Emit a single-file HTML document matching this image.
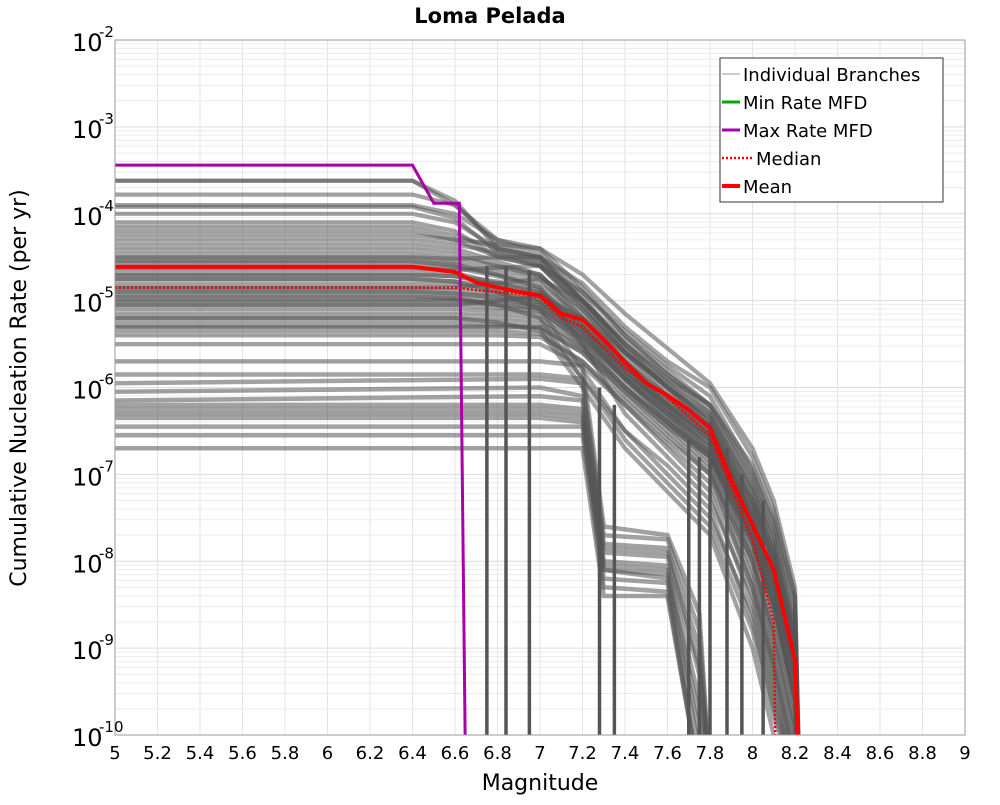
<!DOCTYPE html>
<html><head><meta charset="utf-8"><style>
body{margin:0;background:#fff;font-family:"Liberation Sans","DejaVu Sans",sans-serif}
svg text{font-family:"DejaVu Sans","Liberation Sans",sans-serif}
</style></head><body>
<svg id="chart" width="1000" height="800" xmlns="http://www.w3.org/2000/svg">
<rect width="1000" height="800" fill="#fff"/>
<g id="grid"></g>
<g id="branches"></g>
<g id="series"></g>
<rect x="115" y="40" width="850" height="695" fill="none" stroke="#999" stroke-width="1"/>
<g id="axes"></g>
<text x="490" y="23" text-anchor="middle" font-size="21" font-weight="bold">Loma Pelada</text>
<text x="540" y="790" text-anchor="middle" font-size="22">Magnitude</text>
<text transform="translate(26,388) rotate(-90)" text-anchor="middle" font-size="22">Cumulative Nucleation Rate (per yr)</text>
<g>
<rect x="720" y="58" width="223" height="144" fill="#fff" stroke="#333" stroke-width="1"/>
<line x1="722" y1="74" x2="740" y2="74" stroke="#bbb" stroke-width="1.5"/>
<text x="743" y="81" font-size="18">Individual Branches</text>
<line x1="722" y1="102" x2="740" y2="102" stroke="#00aa00" stroke-width="3"/>
<text x="743" y="109" font-size="18">Min Rate MFD</text>
<line x1="722" y1="130" x2="740" y2="130" stroke="#aa00aa" stroke-width="3"/>
<text x="743" y="137" font-size="18">Max Rate MFD</text>
<line x1="722" y1="158" x2="752" y2="158" stroke="#f00" stroke-width="2.5" stroke-dasharray="2,2"/>
<text x="756" y="165" font-size="18">Median</text>
<line x1="722" y1="186" x2="740" y2="186" stroke="#f00" stroke-width="4"/>
<text x="743" y="193" font-size="18">Mean</text>
</g>
</svg>
<script>
const xTicks=[5,5.2,5.4,5.6,5.8,6,6.2,6.4,6.6,6.8,7,7.2,7.4,7.6,7.8,8,8.2,8.4,8.6,8.8,9];
const xTickLabels=["5","5.2","5.4","5.6","5.8","6","6.2","6.4","6.6","6.8","7","7.2","7.4","7.6","7.8","8","8.2","8.4","8.6","8.8","9"];
const yDecades=[-2,-3,-4,-5,-6,-7,-8,-9,-10];
const meanMags=[5,6.4,6.6,6.7,6.8,6.9,7.0,7.1,7.2,7.3,7.4,7.5,7.6,7.7,7.8,7.9,8.0,8.1,8.2,8.22];
const meanLog=[-4.61,-4.61,-4.67,-4.79,-4.85,-4.9,-4.94,-5.15,-5.22,-5.45,-5.71,-5.95,-6.09,-6.26,-6.47,-7.06,-7.58,-8.1,-9.14,-10.5];
const medianMags=[5,6.6,6.7,6.9,7.0,7.1,7.2,7.4,7.6,7.8,7.9,8.0,8.1,8.11];
const medianLog=[-4.85,-4.85,-4.88,-4.92,-4.96,-5.2,-5.3,-5.78,-6.12,-6.55,-7.15,-7.75,-8.7,-10.5];
const maxMags=[5,6.4,6.5,6.62,6.65];
const maxLog=[-3.44,-3.44,-3.88,-3.88,-10.5];
const upperMags=[5,6.4,6.6,6.8,7.0,7.2,7.4,7.6,7.8,8.0,8.1,8.2,8.22];
const upperBranches=[
[-3.62,-3.62,-3.9,-4.3,-4.45,-4.9,-5.4,-5.8,-6.2,-7.0,-7.6,-8.5,-10.5],
[-3.62,-3.62,-3.85,-4.4,-4.55,-5.0,-5.5,-5.9,-6.3,-7.2,-7.9,-9.0,-10.5],
[-3.78,-3.78,-3.9,-4.35,-4.5,-4.95,-5.55,-6.0,-6.35,-7.3,-8.0,-9.2,-10.5],
[-3.9,-3.9,-4.0,-4.3,-4.4,-4.85,-5.4,-5.85,-6.25,-7.1,-7.7,-8.7,-10.5],
[-3.92,-3.92,-4.05,-4.45,-4.6,-5.05,-5.6,-6.05,-6.45,-7.5,-8.2,-9.3,-10.5],
[-4.0,-4.0,-4.1,-4.4,-4.5,-5.0,-5.5,-5.95,-6.4,-7.3,-7.9,-8.9,-10.5],
[-4.1,-4.1,-4.2,-4.5,-4.6,-5.1,-5.65,-6.1,-6.55,-7.6,-8.4,-9.5,-10.5],
[-4.15,-4.15,-4.25,-4.4,-4.5,-5.0,-5.5,-5.9,-6.2,-6.9,-7.5,-8.4,-10.5],
[-4.25,-4.25,-4.3,-4.5,-4.6,-5.05,-5.6,-6.0,-6.4,-7.4,-8.0,-9.0,-10.5],
[-4.3,-4.3,-4.35,-4.45,-4.55,-5.0,-5.55,-6.0,-6.45,-7.5,-8.2,-9.3,-10.5],
[-4.35,-4.35,-4.4,-4.55,-4.7,-5.2,-5.75,-6.2,-6.6,-7.7,-8.5,-9.6,-10.5],
[-4.45,-4.45,-4.5,-4.6,-4.7,-5.15,-5.7,-6.15,-6.5,-7.45,-8.1,-9.1,-10.5],
[-4.5,-4.5,-4.55,-4.65,-4.75,-5.25,-5.8,-6.25,-6.7,-7.8,-8.6,-9.7,-10.5],
[-4.55,-4.55,-4.6,-4.7,-4.8,-5.2,-5.7,-6.1,-6.45,-7.3,-7.9,-8.9,-10.5],
[-4.6,-4.6,-4.62,-4.72,-4.85,-5.3,-5.85,-6.3,-6.75,-7.9,-8.8,-9.9,-10.5],
[-4.65,-4.65,-4.68,-4.8,-4.9,-5.3,-5.8,-6.2,-6.55,-7.5,-8.2,-9.2,-10.5],
[-4.7,-4.7,-4.72,-4.82,-4.92,-5.35,-5.9,-6.35,-6.8,-7.95,-8.9,-10.0,-10.5],
[-4.75,-4.75,-4.78,-4.85,-4.95,-5.3,-5.75,-6.15,-6.5,-7.35,-8.0,-9.0,-10.5],
[-4.8,-4.8,-4.82,-4.9,-5.0,-5.4,-5.9,-6.3,-6.7,-7.7,-8.5,-9.6,-10.5],
[-4.85,-4.85,-4.88,-4.92,-5.0,-5.35,-5.85,-6.25,-6.6,-7.6,-8.3,-9.4,-10.5],
[-4.9,-4.9,-4.92,-4.97,-5.05,-5.45,-5.95,-6.4,-6.85,-8.0,-9.0,-10.1,-10.5],
[-4.95,-4.95,-4.97,-5.0,-5.05,-5.4,-5.85,-6.2,-6.55,-7.4,-8.0,-9.1,-10.5],
[-5.0,-5.0,-5.0,-5.05,-5.1,-5.5,-6.0,-6.45,-6.9,-8.1,-9.1,-10.2,-10.5],
[-5.05,-5.05,-5.05,-5.08,-5.12,-5.45,-5.9,-6.3,-6.65,-7.6,-8.3,-9.3,-10.5],
[-5.1,-5.1,-5.1,-5.12,-5.15,-5.5,-6.0,-6.4,-6.8,-7.8,-8.6,-9.7,-10.5],
[-5.15,-5.15,-5.15,-5.17,-5.2,-5.55,-6.05,-6.5,-6.95,-8.2,-9.2,-10.3,-10.5],
[-5.2,-5.2,-5.2,-5.22,-5.25,-5.55,-6.0,-6.4,-6.75,-7.7,-8.4,-9.5,-10.5],
[-5.25,-5.25,-5.25,-5.27,-5.3,-5.6,-6.1,-6.55,-7.0,-8.3,-9.3,-10.4,-10.5],
[-5.3,-5.3,-5.3,-5.3,-5.32,-5.6,-6.05,-6.45,-6.8,-7.8,-8.5,-9.6,-10.5],
[-5.35,-5.35,-5.35,-5.35,-5.38,-5.7,-6.2,-6.7,-7.2,-8.5,-9.5,-10.5,-10.5],
[-5.4,-5.4,-5.4,-5.4,-5.42,-5.7,-6.15,-6.6,-7.0,-8.0,-8.8,-9.9,-10.5],
[-5.5,-5.5,-5.5,-5.5,-5.5,-5.75,-6.2,-6.65,-7.1,-8.3,-9.2,-10.3,-10.5],
[-4.4,-4.4,-4.45,-4.6,-4.72,-5.1,-5.6,-6.0,-6.35,-7.2,-7.8,-8.8,-10.5],
[-4.7,-4.7,-4.72,-4.78,-4.88,-5.25,-5.75,-6.2,-6.6,-7.55,-8.25,-9.3,-10.5],
[-4.9,-4.9,-4.92,-4.95,-5.02,-5.35,-5.8,-6.25,-6.65,-7.65,-8.35,-9.45,-10.5],
[-5.0,-5.0,-5.0,-5.03,-5.08,-5.42,-5.9,-6.35,-6.75,-7.75,-8.5,-9.6,-10.5],
[-4.2,-4.2,-4.3,-4.35,-4.4,-4.7,-5.15,-5.55,-5.95,-6.7,-7.3,-8.3,-10.5],
[-4.5,-4.5,-4.52,-4.5,-4.5,-4.8,-5.3,-5.7,-6.0,-6.8,-7.4,-8.4,-10.5],
[-4.62,-4.62,-4.65,-4.62,-4.6,-4.9,-5.35,-5.75,-6.1,-6.95,-7.55,-8.6,-10.5],
[-4.85,-4.85,-4.85,-4.8,-4.75,-5.0,-5.45,-5.85,-6.2,-7.05,-7.7,-8.8,-10.5],
[-5.05,-5.05,-5.05,-5.0,-4.95,-5.2,-5.6,-5.95,-6.3,-7.15,-7.8,-8.9,-10.5],
[-4.75,-4.75,-4.78,-4.9,-5.1,-5.8,-6.5,-7.0,-7.5,-8.6,-9.6,-10.5,-10.5],
[-4.95,-4.95,-4.97,-5.05,-5.2,-5.9,-6.6,-7.1,-7.6,-8.8,-9.8,-10.5,-10.5],
[-5.2,-5.2,-5.2,-5.25,-5.35,-6.0,-6.7,-7.2,-7.7,-9.0,-10.0,-10.5,-10.5],
[-4.55,-4.55,-4.58,-4.7,-4.85,-5.5,-6.3,-6.8,-7.3,-8.4,-9.4,-10.5,-10.5],
[-5.3,-5.3,-5.3,-5.3,-5.3,-5.9,-6.5,-6.9,-7.4,-8.7,-9.7,-10.5,-10.5]
];
const lowerMags=[5,7.0,7.2,7.3,7.6,7.75,7.8];
const lowerBranches=[
[-5.7,-5.7,-5.75,-7.6,-7.7,-8.6,-10.5],
[-5.85,-5.85,-5.9,-7.7,-7.75,-8.8,-10.5],
[-5.95,-5.9,-5.95,-7.8,-7.85,-9.0,-10.5],
[-6.05,-6.0,-6.1,-7.85,-7.9,-9.2,-10.5],
[-6.15,-6.1,-6.15,-7.9,-7.95,-9.3,-10.5],
[-6.2,-6.2,-6.25,-8.0,-8.05,-9.6,-10.5],
[-6.25,-6.25,-6.3,-8.05,-8.1,-9.8,-10.5],
[-6.3,-6.3,-6.35,-8.1,-8.15,-10.0,-10.5],
[-6.35,-6.35,-6.4,-8.1,-8.2,-10.2,-10.5],
[-6.45,-6.45,-6.45,-8.2,-8.25,-10.5,-10.5],
[-6.55,-6.55,-6.55,-8.3,-8.35,-10.5,-10.5],
[-6.7,-6.7,-6.7,-8.4,-8.4,-10.5,-10.5]
];
const cutoffMags=[6.75,6.84,6.95,7.7,7.75,7.8,7.88,7.95,8.05,7.28,7.35];
const cutoffTops=[-4.6,-4.6,-4.65,-6.6,-6.8,-6.4,-6.7,-7.0,-7.3,-6.0,-6.2];

const NS="http://www.w3.org/2000/svg";
const X0=115,X1=965,Y0=40,Y1=735;
function xs(m){return X0+(m-5)/(9-5)*(X1-X0);}
function ys(l){return Y0+(-2-l)/8*(Y1-Y0);}
function mk(tag,attrs,parent){const e=document.createElementNS(NS,tag);for(const k in attrs)e.setAttribute(k,attrs[k]);parent.appendChild(e);return e;}
const grid=document.getElementById('grid');
for(const t of xTicks){
  const l=mk('line',{x1:xs(t),x2:xs(t),y1:Y0,y2:Y1,stroke:'#e3e3e3','stroke-width':1},grid);
  
  
}
for(let d=-10;d<-2;d++){for(let k=1;k<10;k++){
  const l=mk('line',{x1:X0,x2:X1,y1:ys(d+Math.log10(k)),y2:ys(d+Math.log10(k)),stroke:k===1?'#dcdcdc':'#ececec','stroke-width':1},grid);
  
  
}}
const clipDef=mk('defs',{},document.getElementById('chart'));
const cp=mk('clipPath',{id:'pc'},clipDef);mk('rect',{x:X0,y:Y0,width:X1-X0,height:Y1-Y0},cp);
const br=document.getElementById('branches');br.setAttribute('clip-path','url(#pc)');
function pts(ms,ls){return ms.map((m,i)=>xs(m).toFixed(1)+','+ys(ls[i]).toFixed(1)).join(' ');}
for(const b of upperBranches){
  const p=mk('polyline',{points:pts(upperMags,b),fill:'none',stroke:'#555','stroke-opacity':0.55,'stroke-width':4.2},br);
  
  
}
for(const b of lowerBranches){
  const p=mk('polyline',{points:pts(lowerMags,b),fill:'none',stroke:'#555','stroke-opacity':0.55,'stroke-width':4.5},br);
  
  
}
cutoffMags.forEach((m,i)=>{
  const p=mk('line',{x1:xs(m),x2:xs(m),y1:ys(cutoffTops[i]),y2:Y1,stroke:'#555','stroke-width':3.5},br);
  
  
});
const se=document.getElementById('series');se.setAttribute('clip-path','url(#pc)');
let s=mk('polyline',{points:pts(maxMags,maxLog),fill:'none',stroke:'#aa00aa','stroke-width':3},se);


s=mk('polyline',{points:pts(medianMags,medianLog),fill:'none',stroke:'#f00','stroke-width':2.5,'stroke-dasharray':'2,2'},se);


s=mk('polyline',{points:pts(meanMags,meanLog),fill:'none',stroke:'#f00','stroke-width':4},se);


const ax=document.getElementById('axes');
xTicks.forEach((t,i)=>{
  const tx=mk('text',{x:xs(t),y:759,'text-anchor':'middle','font-size':18},ax);
  tx.textContent=xTickLabels[i];
  
  
});
for(const d of yDecades){
  const tx=mk('text',{x:72,y:ys(d)+11,'font-size':24},ax);
  tx.textContent='10';
  
  
  const sp=mk('text',{x:99,y:ys(d)-3,'font-size':15},ax);
  sp.textContent=String(d);
  
  
}
</script>
</body></html>
